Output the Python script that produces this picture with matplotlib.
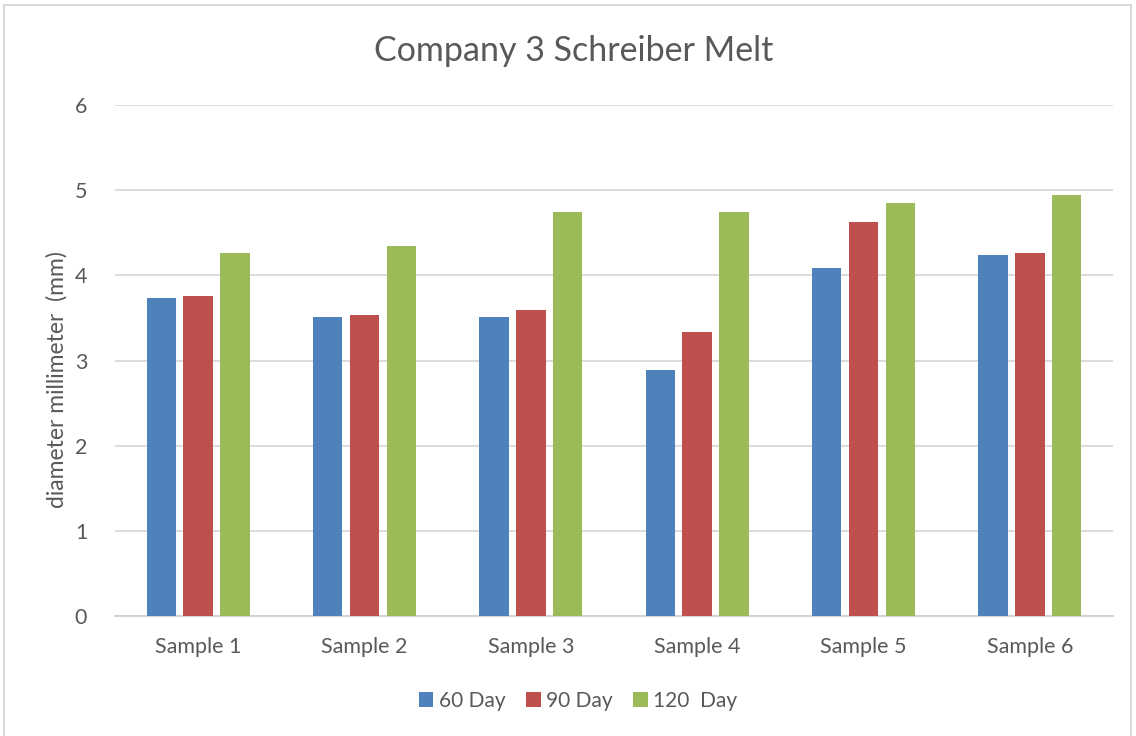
import matplotlib.pyplot as plt
import numpy as np
from matplotlib.patches import Rectangle

muestras = ["Sample 1", "Sample 2", "Sample 3", "Sample 4", "Sample 5", "Sample 6"]
dia60 = [3.73, 3.51, 3.51, 2.89, 4.09, 4.24]
dia90 = [3.76, 3.53, 3.59, 3.34, 4.63, 4.26]
dia120 = [4.26, 4.34, 4.74, 4.74, 4.85, 4.94]
series = ["60 Day", "90 Day", "120  Day"]
colores = ["#4f81bd", "#c0504d", "#9bbb59"]

plt.rcParams['font.family'] = ['Lato', 'DejaVu Sans']
gris = "#595959"

fig = plt.figure(figsize=(11.36, 7.36), dpi=100)
ax = fig.add_axes([115/1136, 1 - 616/736, (1113-115)/1136, (616-105)/736])

x = np.arange(len(muestras))
ancho = 0.177
paso = 0.222
for i, (valores, nombre, color) in enumerate(zip([dia60, dia90, dia120], series, colores)):
    ax.bar(x + (i - 1) * paso, valores, ancho, color=color, label=nombre, zorder=3)

ax.set_xlim(-0.5, len(muestras) - 0.5)
ax.set_ylim(0, 6)
ax.set_yticks(range(0, 7))
ax.grid(axis='y', color='#d9d9d9', linewidth=1.3, zorder=0)
for lado in ['top', 'right', 'left']:
    ax.spines[lado].set_visible(False)
ax.spines['bottom'].set_color('#d0d0d0')
ax.spines['bottom'].set_linewidth(1.3)
ax.tick_params(axis='both', length=0, labelsize=15.5, colors=gris)
ax.tick_params(axis='x', pad=15)
ax.tick_params(axis='y', pad=20)
ax.set_xticks(x)
ax.set_xticklabels(muestras)
ax.set_ylabel("diameter millimeter  (mm)", fontsize=16.5, color=gris)
ax.yaxis.set_label_coords(-0.048, 0.462)

fig.text(574/1136, 1 - 51/736, "Company 3 Schreiber Melt", fontsize=24.5, color=gris,
         ha='center', va='center')

fig.legend(loc='center', bbox_to_anchor=(578/1136, 1 - 701/736), ncol=3, frameon=False,
           fontsize=15, labelcolor=gris, handlelength=0.7, handleheight=0.7,
           handletextpad=0.25, columnspacing=1.0)

fig.patches.append(Rectangle((4/1136, -0.01), 1127/1136, 1 - 5/736 + 0.01,
                             transform=fig.transFigure, fill=False,
                             edgecolor='#d9d9d9', linewidth=1.5))

plt.savefig("out.png")
plt.close()
